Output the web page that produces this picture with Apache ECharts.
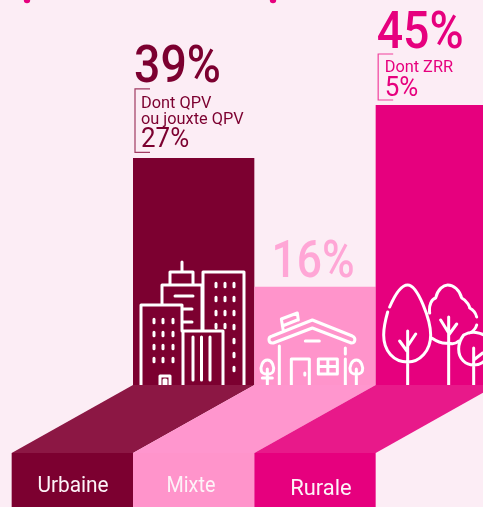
<!DOCTYPE html>
<html>
<head>
<meta charset="utf-8">
<script src="https://cdn.jsdelivr.net/npm/echarts@6/dist/echarts.min.js"></script>
<style>
  html, body { margin: 0; padding: 0; background: #fcedf5; }
  #main { width: 483px; height: 507px; }
</style>
</head>
<body>
<div id="main"></div>
<script>
// donnees
var categories = ['Urbaine', 'Mixte', 'Rurale'];
var barHeights = [36.5, 15.8, 45];
var shareLabels = ['39%', '16%', '45%'];
var subLabels = [['Dont QPV', 'ou jouxte QPV'], [], ['Dont ZRR']];
var subValues = ['27%', '', '5%'];

var barColors = ['#7c0030', '#ff94cb', '#e6007e'];
var ribbonColors = ['#8c1744', '#ff96ce', '#e8198a'];
var labelColors = ['#7c0030', '#ffa6d6', '#e6007e'];
var bracketColors = ['#a03a62', '', '#f0409c'];

var FONT = 'Roboto, sans-serif';

function windows(xs, ys) {
  var d = '';
  xs.forEach(function (x) {
    ys.forEach(function (y) {
      d += 'M' + x + ' ' + (y - 1.8) + 'L' + x + ' ' + (y + 1.8);
    });
  });
  return d;
}

// texte un peu resserre, la police d'origine est plus etroite
function txt(text, x, y, font, fill, align, scale) {
  return {
    type: 'text',
    x: x,
    y: y,
    scaleX: scale,
    style: {
      text: text,
      x: 0,
      y: 0,
      font: font,
      fill: fill,
      textAlign: align,
      textVerticalAlign: 'middle'
    }
  };
}

// pictos, origine en bas a gauche de chaque barre
var iconPaths = [
  // immeubles
  'M8 0V-80H49V-54M50 -54H90V0M50 -54V0' +
  'M29 -80V-100H69V-54M37 -100V-113H60V-100M49 -113V-123' +
  'M70 -54V-113H111V0M60 -48V-5M68.5 -48V-5M77 -48V-5' +
  'M42 -89H60M49 -76H59M49 -63H59' +
  'M27 0V-9H37V0M31 0V-5H33V0' +
  windows([21, 30, 40], [-64, -51, -38, -25]) +
  windows([83, 92, 101], [-100, -86, -72]) + windows([101], [-58, -44, -30, -16]) + windows([92, 83], [-59]),
  // maison
  'M18 -42C14 -42 13 -48 18 -49L58 -65L98 -49C102 -47 101 -42 97 -42L58 -57L19 -42' +
  'M25 -39V0M91 -37V-31M91 -26V0M51 -44H65' +
  'M37 0V-26H55V0M50.5 -12V-10' +
  'M64 -26H83V-11H64ZM64 -18.5H83M73.5 -26V-11' +
  'M29 -54L27 -66L43 -72L44 -65M28 -59L43 -65' +
  'M13 0V-16M13 -25C8 -25 6 -18 7 -14C8 -10 18 -10 19 -14C20 -18 18 -25 13 -25ZM8 -7H18' +
  'M102 0V-16M102 -25C97 -25 95 -18 96 -14C97 -10 107 -10 108 -14C109 -18 107 -25 102 -25Z',
  // arbres
  'M14 -78C20 -92 26 -100 32 -100C42 -100 55 -65 55 -50C55 -34 44 -23 32 -23C18 -23 8 -34 8 -50C8 -58 10 -66 12 -73' +
  'M32 -54V0M24 -44L32 -33M40 -51L32 -39' +
  'M54 -72C53 -80 56 -86 60 -87C62 -96 68 -100 72 -100C78 -100 84 -95 86 -87C92 -84 94 -78 94 -77C98 -75 100 -72 101 -68' +
  'M101 -60C100 -56 96 -53 94 -52M56 -47C62 -43 68 -41 73 -42C78 -40 81 -42 83 -44' +
  'M73 -68V0M65 -65L73 -52M81 -61L73 -50' +
  'M88 -50C95 -54 105 -54 114 -46M83 -36C83 -26 90 -20 98 -20C106 -20 114 -26 114 -36M83 -36C83 -42 85 -46 88 -50' +
  'M98 -37V0M107 -32L98 -25'
];

var myChart = echarts.init(document.getElementById('main'));

function renderBase(params, api) {
  var i = params.dataIndex;
  var p = api.coord([i, 0]);
  var w = api.size([1, 0])[0];
  var l = p[0] - w / 2;
  var r = p[0] + w / 2;
  var dx = -w, dy = 68;
  return {
    type: 'group',
    children: [
      {
        type: 'polygon',
        shape: { points: [[l, p[1]], [r, p[1]], [r + dx, p[1] + dy], [l + dx, p[1] + dy]] },
        style: { fill: ribbonColors[i] }
      },
      {
        type: 'rect',
        shape: { x: l + dx, y: p[1] + dy, width: w, height: 60 },
        style: { fill: barColors[i] }
      },
      txt(categories[i], p[0] + dx + [0.7, -2.7, 6][i], p[1] + dy + [34, 34, 37][i],
        '21.5px ' + FONT, '#fdf3f8', 'center', [0.97, 0.92, 1.02][i])
    ]
  };
}

function renderIcon(params, api) {
  var i = params.dataIndex;
  var p = api.coord([i, 0]);
  var w = api.size([1, 0])[0];
  return {
    type: 'path',
    x: p[0] - w / 2,
    y: p[1],
    shape: { pathData: iconPaths[i] },
    style: { fill: 'none', stroke: '#fff', lineWidth: 3, lineCap: 'round', lineJoin: 'round' }
  };
}

function renderLabels(params, api) {
  var i = params.dataIndex;
  var p = api.coord([i, barHeights[i]]);
  var w = api.size([1, 0])[0];
  var l = p[0] - w / 2;
  var top = p[1];
  var children = [];

  // position du grand pourcentage au-dessus de la barre
  var bigX = i === 1 ? p[0] - 2 : l + 1;
  var bigY = top + [-89, -22.5, -70][i];
  children.push(txt(shareLabels[i], bigX, bigY, '500 51px ' + FONT, labelColors[i],
    i === 1 ? 'center' : 'left', [0.91, 0.87, 0.91][i]));

  if (subValues[i]) {
    var lines = subLabels[i];
    var tx = l + (i === 0 ? 8 : 9);
    var startY = top + (i === 0 ? -54 : -37.5);
    lines.forEach(function (line, k) {
      children.push(txt(line, tx, startY + k * 16, '16.5px ' + FONT, labelColors[i], 'left', 0.99));
    });
    children.push(txt(subValues[i], tx, top + (i === 0 ? -17.5 : -15.5), '27px ' + FONT, labelColors[i], 'left', 0.96));
    var bx = l + (i === 0 ? 2 : 2.5);
    var by0 = top + (i === 0 ? -69 : -51);
    var by1 = top + (i === 0 ? -5.5 : -5);
    children.push({
      type: 'polyline',
      shape: { points: [[bx + 15, by0], [bx, by0], [bx, by1], [bx + 15, by1]] },
      style: { fill: 'none', stroke: bracketColors[i], lineWidth: 1.2 }
    });
  }
  return { type: 'group', children: children };
}

var indexData = categories.map(function (c, i) { return [i]; });

var option = {
  backgroundColor: '#fcedf5',
  animation: false,
  grid: { left: 133, top: 105, width: 364, height: 280, outerBoundsMode: 'none' },
  xAxis: { type: 'category', data: categories, show: false },
  yAxis: { type: 'value', min: 0, max: 45, show: false },
  // bouts de lettres du titre coupe en haut
  graphic: [
    { type: 'circle', shape: { cx: 27, cy: 0, r: 3.2 }, style: { fill: '#e6007e' } },
    { type: 'circle', shape: { cx: 273, cy: 0, r: 3.2 }, style: { fill: '#e6007e' } }
  ],
  series: [
    {
      type: 'bar',
      barWidth: '100%',
      data: barHeights.map(function (v, i) {
        return { value: v, itemStyle: { color: barColors[i] } };
      }),
      z: 2
    },
    { type: 'custom', renderItem: renderBase, data: indexData, clip: false, z: 3 },
    { type: 'custom', renderItem: renderIcon, data: indexData, clip: false, z: 2.5 },
    { type: 'custom', renderItem: renderLabels, data: indexData, clip: false, z: 4 }
  ]
};

myChart.setOption(option);
</script>
</body>
</html>
